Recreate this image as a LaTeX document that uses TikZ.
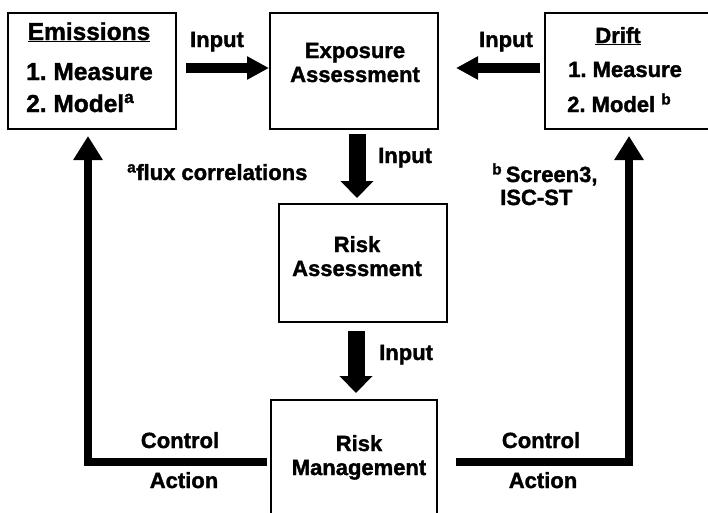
\documentclass[tikz,border=0pt]{standalone}
\usepackage{fontspec}
\setmainfont{Liberation Sans}[BoldFeatures={FakeBold=1.5}]
\usetikzlibrary{arrows.meta}
\frenchspacing
\tikzset{
  box/.style={draw, line width=2pt, minimum width=168pt, minimum height=116pt, inner sep=0pt},
  lbl/.style={font=\fontsize{22}{24}\selectfont\bfseries, inner sep=0pt, anchor=base},
  lbleft/.style={lbl, anchor=base west},
  biglbl/.style={lbl, font=\fontsize{24.5}{27}\selectfont\bfseries},
  flatarrow/.style={line width=10pt, -{Triangle[width=22pt,length=22pt]}},
  droparrow/.style={line width=17pt, -{Triangle[width=32pt,length=17pt]}},
  loopline/.style={line width=8pt, -{Triangle[width=28pt,length=24pt]}}
}
\begin{document}
\begin{tikzpicture}[x=1pt,y=-1pt]
  \useasboundingbox (0,0) rectangle (708,512);
  \clip (0,0) rectangle (708,512);
  %caselle
  \node[box] (emis) at (92,71) {};
  \node[box] (expo) at (354,71) {};
  \node[box] (drift) at (629,71) {};
  \node[box, minimum height=118pt] (risk) at (363,263) {};
  \node[box, minimum width=166pt, minimum height=124pt] (mgmt) at (354,462) {};
  %testi delle caselle
  \node[biglbl] (emistitle) at (89,40) {\underline{Emissions}};
  \node[biglbl, anchor=base west] (emisone) at (26,80) {1. Measure};
  \node[biglbl, anchor=base west] (emistwo) at (26,112) {2. Model\textsuperscript{a}};
  \node[lbl] (expoone) at (355,58) {Exposure};
  \node[lbl] (expotwo) at (355,82) {Assessment};
  \node[lbl] (drifttitle) at (618,43) {\underline{Drift}};
  \node[lbleft] (driftone) at (568,77) {1. Measure};
  \node[lbleft] (drifttwo) at (567,112) {2. Model \textsuperscript{b}};
  \node[lbl] (riskone) at (357,252) {Risk};
  \node[lbl] (risktwo) at (357,276) {Assessment};
  \node[lbl] (mgmtone) at (359,451) {Risk};
  \node[lbl] (mgmttwo) at (359,475) {Management};
  %frecce di input
  \draw[flatarrow, shorten <=9pt] ([yshift=3pt]emis.east) -- ([yshift=3pt]expo.west);
  \draw[flatarrow, shorten <=4pt, shorten >=17pt] ([yshift=3pt]drift.west) -- ([yshift=3pt]expo.east);
  \draw[droparrow, shorten <=4pt, shorten >=5pt] ([xshift=3pt]expo.south) -- ([xshift=3pt]expo.south |- risk.north);
  \draw[droparrow, shorten <=8pt, shorten >=6pt] ([xshift=2pt]mgmt.north |- risk.south) -- ([xshift=2pt]mgmt.north);
  \node[lbl] (inleft) at (217,47) {Input};
  \node[lbl] (inright) at (506,47) {Input};
  \node[lbleft] (indowna) at (378,163) {Input};
  \node[lbleft] (indownb) at (379,360) {Input};
  %note
  \node[lbleft] (fluxnote) at (127,180) {\textsuperscript{a}flux correlations};
  \node[lbleft] (scrnote) at (492,182) {\textsuperscript{b}\,Screen3,};
  \node[lbleft] (iscnote) at (500,205) {ISC-ST};
  %azioni di controllo
  \draw[loopline, shorten <=3pt, shorten >=6pt] (mgmt.west) -| ([xshift=-4pt]emis.south);
  \draw[loopline, shorten <=18pt, shorten >=6pt] (mgmt.east) -| (drift.south);
  \node[lbl] (ctlleft) at (180,448) {Control};
  \node[lbl] (actleft) at (184,488) {Action};
  \node[lbl] (ctlright) at (541,448) {Control};
  \node[lbl] (actright) at (543,488) {Action};
\end{tikzpicture}
\end{document}
